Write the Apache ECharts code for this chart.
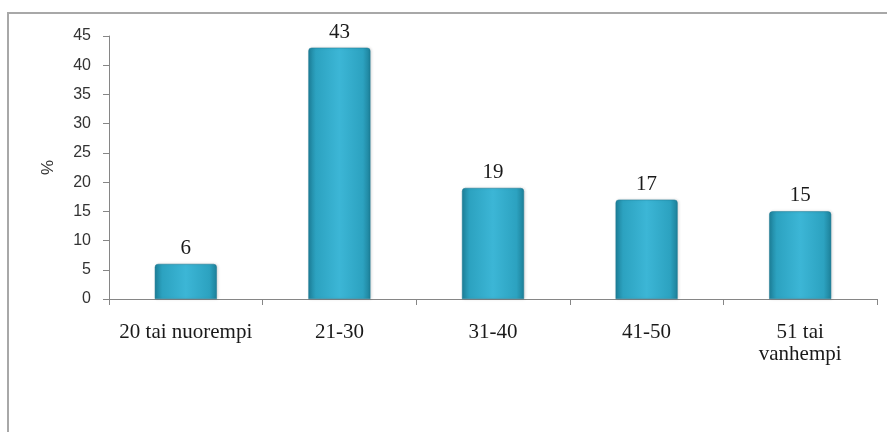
<!DOCTYPE html>
<html>
<head>
<meta charset="utf-8">
<script src="https://cdn.jsdelivr.net/npm/echarts@6/dist/echarts.min.js"></script>
<style>html,body{margin:0;padding:0;background:#fff;}#c{width:887px;height:432px;}</style>
</head>
<body>
<div id="c"></div>
<script>
var categories = ['20 tai nuorempi', '21-30', '31-40', '41-50', '51 tai\nvanhempi'];
var values = [6, 43, 19, 17, 15];
var yTicks = { min: 0, max: 45, interval: 5 };
var yName = '%';

var chart = echarts.init(document.getElementById('c'), null, { renderer: 'canvas' });
var barColor = new echarts.graphic.LinearGradient(0, 0, 1, 0, [
  { offset: 0, color: '#1d8099' },
  { offset: 0.12, color: '#2ca2c0' },
  { offset: 0.5, color: '#3cb6d6' },
  { offset: 0.88, color: '#2ca2c0' },
  { offset: 1, color: '#1d8099' }
]);
chart.setOption({
  animation: false,
  backgroundColor: '#fff',
  graphic: [{
    type: 'rect',
    shape: { x: 8, y: 13, width: 900, height: 450 },
    style: { fill: 'none', stroke: '#a8a8a8', lineWidth: 2 },
    silent: true
  }],
  grid: { left: 109, right: 10, top: 36, bottom: 133, containLabel: false },
  xAxis: {
    type: 'category',
    data: categories,
    boundaryGap: true,
    axisLine: { lineStyle: { color: '#868686', width: 1 } },
    axisTick: { show: true, length: 6, lineStyle: { color: '#868686' } },
    axisLabel: {
      interval: 0,
      margin: 22,
      fontFamily: 'Liberation Serif',
      fontSize: 21,
      color: '#1a1a1a',
      lineHeight: 22
    }
  },
  yAxis: {
    type: 'value',
    min: yTicks.min,
    max: yTicks.max,
    interval: yTicks.interval,
    name: yName,
    nameLocation: 'middle',
    nameRotate: 90,
    nameGap: 52,
    nameTextStyle: { fontFamily: 'Liberation Sans', fontSize: 17, color: '#333' },
    axisLine: { show: true, lineStyle: { color: '#868686', width: 1 } },
    axisTick: { show: true, length: 6, lineStyle: { color: '#868686' } },
    splitLine: { show: false },
    axisLabel: {
      margin: 18,
      fontFamily: 'Liberation Sans',
      fontSize: 16,
      color: '#333'
    }
  },
  series: [{
    type: 'bar',
    data: values,
    barWidth: 62,
    itemStyle: {
      color: barColor,
      borderColor: '#1a7690',
      borderWidth: 0.5,
      borderRadius: [3, 3, 0, 0],
      shadowColor: 'rgba(0,0,0,0.15)',
      shadowBlur: 3,
      shadowOffsetX: 1
    },
    label: {
      show: true,
      position: 'top',
      distance: 5,
      fontFamily: 'Liberation Serif',
      fontSize: 21,
      color: '#1a1a1a'
    }
  }]
});
</script>
</body>
</html>
